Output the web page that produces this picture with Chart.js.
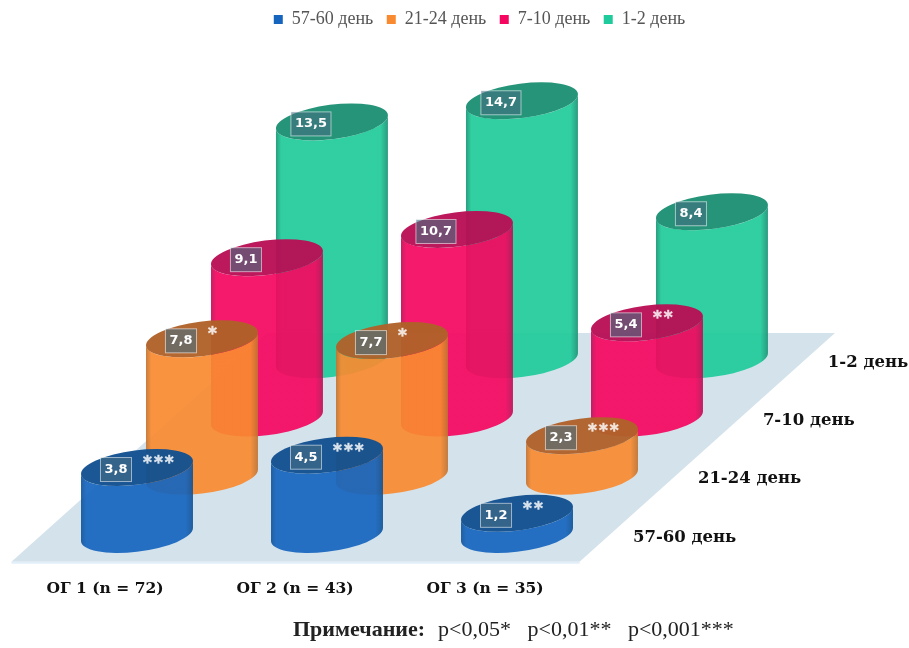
<!DOCTYPE html>
<html lang="ru">
<head>
<meta charset="utf-8">
<title>ОГ 1-3: сроки наблюдения</title>
<script src="https://cdn.jsdelivr.net/npm/chart.js@4"></script>
<style>
    body { margin: 0; background: #fff; }
    canvas { display: block; }
</style>
</head>
<body>
<canvas id="grafico" width="909" height="648"></canvas>
<script>
// Группы и ряды
const categories = ['ОГ 1 (n = 72)', 'ОГ 2 (n = 43)', 'ОГ 3 (n = 35)'];
const seriesLabels = ['57-60 день', '21-24 день', '7-10 день', '1-2 день'];

// Значения по рядам
const values57to60 = [3.8, 4.5, 1.2];
const values21to24 = [7.8, 7.7, 2.3];
const values7to10 = [9.1, 10.7, 5.4];
const values1to2 = [13.5, 14.7, 8.4];

// Отметки достоверности по рядам
const stars57to60 = ['***', '***', '**'];
const stars21to24 = ['*', '*', '***'];
const stars7to10 = ['', '', '**'];
const stars1to2 = ['', '', ''];

const noteTitle = 'Примечание:';
const noteText = 'p<0,05*   p<0,01**   p<0,001***';

// Сдвиг одного ряда вглубь, в единицах осей x и y
const depthX = 0.342;
const depthY = 3.307;

// Размеры эллипса основания цилиндра
const radiusX = 56.4;
const radiusY = 17.2;
const tilt = -7.3 * Math.PI / 180;
const tangent = Math.atan((radiusY / radiusX) * Math.tan(-tilt));

// Собирает набор данных одного ряда
function makeDataset(index, values, stars, main, edge, top) {
    return {
        label: seriesLabels[index],
        data: values.map((v, g) => ({ x: g + index * depthX, y: index * depthY + v })),
        stars: stars,
        values: values,
        depth: index,
        backgroundColor: main,
        edgeColor: edge,
        topColor: top,
        borderWidth: 0,
        pointRadius: 0,
        showLine: false
    };
}

// Точка на эллипсе с учётом наклона
function ellipsePoint(cx, cy, t) {
    const ex = radiusX * Math.cos(t);
    const ey = radiusY * Math.sin(t);
    return {
        x: cx + ex * Math.cos(tilt) - ey * Math.sin(tilt),
        y: cy + ex * Math.sin(tilt) + ey * Math.cos(tilt)
    };
}

// Рисует один цилиндр: боковая поверхность и верхний эллипс
function drawCylinder(ctx, x, yTop, yBase, ds) {
    const left = ellipsePoint(x, yTop, tangent + Math.PI);
    const right = ellipsePoint(x, yTop, tangent);
    const dy = yBase - yTop;

    const gradient = ctx.createLinearGradient(x - radiusX, 0, x + radiusX, 0);
    gradient.addColorStop(0, ds.edgeColor);
    gradient.addColorStop(0.05, ds.backgroundColor);
    gradient.addColorStop(0.93, ds.backgroundColor);
    gradient.addColorStop(1, ds.edgeColor);

    ctx.save();
    ctx.globalAlpha = 0.92;
    ctx.beginPath();
    ctx.moveTo(left.x, left.y);
    ctx.lineTo(left.x, left.y + dy);
    ctx.ellipse(x, yBase, radiusX, radiusY, tilt, tangent + Math.PI, tangent, true);
    ctx.lineTo(right.x, right.y);
    ctx.ellipse(x, yTop, radiusX, radiusY, tilt, tangent, tangent + Math.PI, false);
    ctx.closePath();
    ctx.fillStyle = gradient;
    ctx.fill();

    ctx.globalAlpha = 0.96;
    ctx.beginPath();
    ctx.ellipse(x, yTop, radiusX, radiusY, tilt, 0, Math.PI * 2);
    ctx.fillStyle = ds.topColor;
    ctx.fill();
    ctx.restore();
}

// Плагин: плоскость-основание, цилиндры и подписи
const cylinderPlugin = {
    id: 'cylinders',
    afterLayout(chart) {
        // Легенда стоит правее центра холста
        chart.legend.left += 50;
        chart.legend.top += 2;
    },
    beforeDatasetsDraw(chart) {
        const { ctx, scales: { x, y } } = chart;
        // Углы плоскости заданы в группах и рядах
        const corner = (g, d) => [x.getPixelForValue(g + d * depthX), y.getPixelForValue(d * depthY)];
        const corners = [corner(-0.5, -0.47), corner(2.49, -0.47), corner(2.49, 3.46), corner(-0.5, 3.46)];
        ctx.save();
        ctx.beginPath();
        corners.forEach(c => ctx.lineTo(c[0], c[1]));
        ctx.closePath();
        ctx.fillStyle = '#d4e2eb';
        ctx.fill();
        // Светлая кромка по переднему краю
        ctx.beginPath();
        ctx.moveTo(corners[0][0], corners[0][1] + 1);
        ctx.lineTo(corners[1][0], corners[1][1] + 1);
        ctx.strokeStyle = '#e0eff9';
        ctx.lineWidth = 2;
        ctx.stroke();
        ctx.restore();
    },
    afterDatasetDraw(chart, args) {
        const ds = chart.data.datasets[args.index];
        const yScale = chart.scales.y;
        args.meta.data.forEach(point => {
            drawCylinder(chart.ctx, point.x, point.y, yScale.getPixelForValue(ds.depth * depthY), ds);
        });
    },
    afterDatasetsDraw(chart) {
        const { ctx, scales: { x, y } } = chart;
        ctx.save();
        chart.data.datasets.forEach((ds, i) => {
            const meta = chart.getDatasetMeta(i);
            meta.data.forEach((point, g) => {
                // Подпись значения в рамке
                const text = ds.values[g].toFixed(1).replace('.', ',');
                ctx.font = 'bold 13px "DejaVu Sans"';
                const w = ctx.measureText(text).width + 8;
                const bx = point.x - 21 - w / 2;
                const by = point.y + 2 - 12;
                ctx.fillStyle = 'rgba(70,110,130,0.6)';
                ctx.fillRect(bx, by, w, 24);
                ctx.strokeStyle = 'rgba(255,255,255,0.55)';
                ctx.lineWidth = 1;
                ctx.strokeRect(bx, by, w, 24);
                ctx.fillStyle = '#fff';
                ctx.textAlign = 'center';
                ctx.textBaseline = 'middle';
                ctx.fillText(text, point.x - 21, point.y + 2);

                // Звёздочки справа от рамки
                if (ds.stars[g]) {
                    ctx.font = 'bold 17px "DejaVu Sans"';
                    ctx.letterSpacing = '2px';
                    ctx.textAlign = 'left';
                    ctx.fillStyle = 'rgba(255,255,255,0.8)';
                    ctx.strokeStyle = 'rgba(255,255,255,0.6)';
                    ctx.lineWidth = 0.7;
                    ctx.fillText(ds.stars[g], point.x + 6, point.y - 4);
                    ctx.strokeText(ds.stars[g], point.x + 6, point.y - 4);
                    ctx.letterSpacing = '0px';
                }
            });

            // Подпись ряда справа от плоскости
            ctx.font = 'bold 16.5px "DejaVu Serif"';
            ctx.textAlign = 'left';
            ctx.textBaseline = 'middle';
            ctx.fillStyle = '#111';
            ctx.fillText(ds.label, x.getPixelForValue(2.61 + ds.depth * depthX), y.getPixelForValue(ds.depth * depthY) + 3);
        });

        // Примечание внизу
        ctx.textAlign = 'left';
        ctx.textBaseline = 'middle';
        ctx.fillStyle = '#222';
        ctx.font = 'bold 22px "Liberation Serif"';
        ctx.fillText(noteTitle, 293, 630);
        const shift = ctx.measureText(noteTitle).width + 13;
        ctx.font = '22px "Liberation Serif"';
        ctx.fillText(noteText, 293 + shift, 630);
        ctx.restore();
    }
};

// Создаёт график при загрузке страницы
window.onload = function() {
    const ctx = document.getElementById('grafico').getContext('2d');
    new Chart(ctx, {
        type: 'scatter',
        data: {
            datasets: [
                makeDataset(0, values57to60, stars57to60, '#1565bf', '#105296', '#125090'),
                makeDataset(1, values21to24, stars21to24, '#f98a30', '#bd7130', '#b0622a'),
                makeDataset(2, values7to10, stars7to10, '#f5065f', '#b91055', '#b81055'),
                makeDataset(3, values1to2, stars1to2, '#1fcb9a', '#189072', '#1c9074')
            ]
        },
        options: {
            responsive: false,
            animation: false,
            layout: { padding: { top: -5, bottom: 48.4 } },
            plugins: {
                tooltip: { enabled: false },
                legend: {
                    position: 'top',
                    labels: {
                        boxWidth: 9,
                        boxHeight: 9,
                        padding: 13.5,
                        color: '#555',
                        font: { family: '"Liberation Serif"', size: 18 }
                    }
                }
            },
            scales: {
                x: {
                    type: 'linear',
                    min: -0.721,
                    max: 4.063,
                    grid: { display: false },
                    border: { display: false },
                    afterBuildTicks: scale => {
                        scale.ticks = categories.map((c, i) => ({ value: i }));
                    },
                    ticks: {
                        autoSkip: false,
                        maxRotation: 0,
                        padding: 1,
                        labelOffset: -32,
                        color: '#111',
                        font: { family: '"DejaVu Serif"', size: 15.5, weight: 'bold' },
                        callback: value => categories[value]
                    }
                },
                y: {
                    display: false,
                    min: -2.074,
                    max: 28.27
                }
            }
        },
        plugins: [cylinderPlugin]
    });
};
</script>
</body>
</html>
